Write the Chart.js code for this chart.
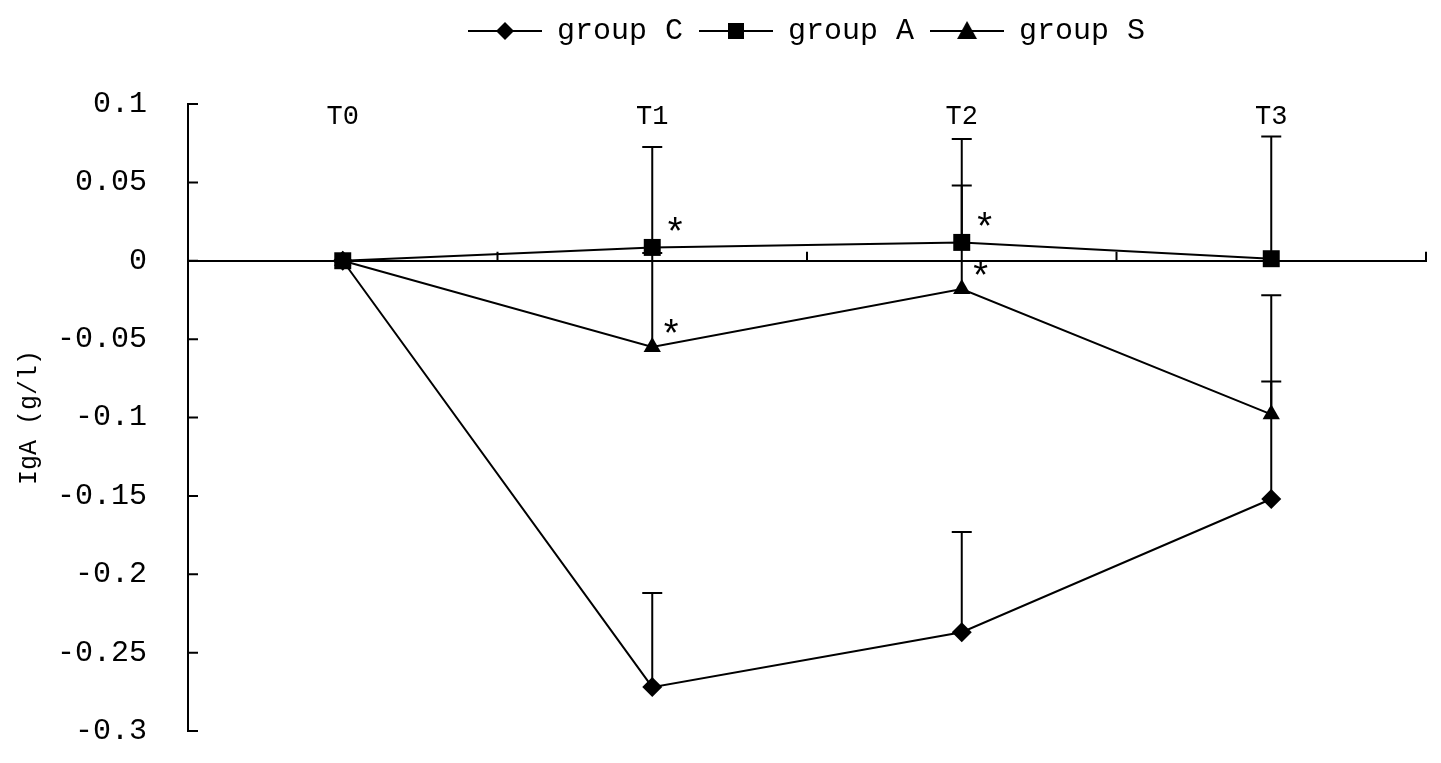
<!DOCTYPE html>
<html>
<head>
<meta charset="utf-8">
<script src="https://cdn.jsdelivr.net/npm/chart.js@4.4.0/dist/chart.umd.min.js"></script>
<style>
html, body { margin: 0; padding: 0; background: #fff; }
#wrap { width: 1441px; height: 763px; }
</style>
</head>
<body>
<div id="wrap"><canvas id="iga_chart"></canvas></div>
<script>
//----------------------------------------
//--- Input data
//----------------------------------------

var timepoints = ['T0', 'T1', 'T2', 'T3'];

var groupC = [0, -0.272, -0.237, -0.152];
var groupA = [0, 0.0085, 0.0117, 0.0013];
var groupS = [0, -0.055, -0.018, -0.098];

// upper error bars only (SD)
var errC = [0, 0.060, 0.064, 0.075];
var errA = [0, 0.064, 0.066, 0.078];
var errS = [0, 0.060, 0.066, 0.076];

// significance marks (*)
var starA = [false, true, true, false];
var starS = [false, true, true, false];

var yMin = -0.3, yMax = 0.1, yStep = 0.05;

var monoFont = '"Liberation Mono", "DejaVu Sans Mono", monospace';

//----------------------------------------
//--- Legend icons: line with marker in the middle
//----------------------------------------

function legendIcon(shape, r) {
    var c = document.createElement('canvas');
    c.width = 74; c.height = 24;
    var g = c.getContext('2d');
    g.fillStyle = '#000'; g.strokeStyle = '#000'; g.lineWidth = 2;
    g.beginPath(); g.moveTo(0, 12); g.lineTo(74, 12); g.stroke();
    g.beginPath();
    if (shape === 'diamond') {
        g.moveTo(37, 12 - r); g.lineTo(37 + r, 12); g.lineTo(37, 12 + r); g.lineTo(37 - r, 12);
    } else if (shape === 'square') {
        g.rect(37 - r, 12 - r, 2 * r, 2 * r);
    } else {
        g.moveTo(37, 12 - r); g.lineTo(37 + r, 12 + r * 0.8); g.lineTo(37 - r, 12 + r * 0.8);
    }
    g.closePath(); g.fill();
    return c;
}

//----------------------------------------
//--- Plugins: error bars, axis decorations, stars
//----------------------------------------

var errorBars = {
    id: 'errorBars',
    beforeDatasetsDraw: function(chart) {
        var ctx = chart.ctx, y = chart.scales.y;
        chart.data.datasets.forEach(function(ds, i) {
            var meta = chart.getDatasetMeta(i);
            meta.data.forEach(function(pt, j) {
                var e = ds.errorBars[j];
                if (!e) return;
                var top = y.getPixelForValue(ds.data[j] + e);
                ctx.save();
                ctx.strokeStyle = '#000'; ctx.lineWidth = 2;
                ctx.beginPath();
                ctx.moveTo(pt.x, pt.y); ctx.lineTo(pt.x, top);
                ctx.moveTo(pt.x - 10, top); ctx.lineTo(pt.x + 10, top);
                ctx.stroke();
                ctx.restore();
            });
        });
    }
};

var decorations = {
    id: 'decorations',
    beforeInit: function(chart) {
        // extra space under the legend
        var fit = chart.legend.fit;
        chart.legend.fit = function() { fit.call(this); this.height += 48; };
    },
    afterLayout: function(chart) {
        // legend is centred a bit right of the canvas centre
        chart.legend.left += 91; chart.legend.right += 91;
    },
    afterDraw: function(chart) {
        var ctx = chart.ctx, x = chart.scales.x, y = chart.scales.y, area = chart.chartArea;
        var y0 = y.getPixelForValue(0);
        ctx.save();
        ctx.strokeStyle = '#000'; ctx.lineWidth = 2;
        ctx.beginPath();
        // y ticks pointing inward
        y.ticks.forEach(function(t) {
            var py = y.getPixelForValue(t.value);
            ctx.moveTo(area.left, py); ctx.lineTo(area.left + 10, py);
        });
        // x ticks at category boundaries, pointing up
        for (var i = 0; i < timepoints.length; i++) {
            var bx = i < timepoints.length - 1 ? (x.getPixelForValue(i) + x.getPixelForValue(i + 1)) / 2 : area.right;
            ctx.moveTo(bx, y0); ctx.lineTo(bx, y0 - 9);
        }
        ctx.stroke();

        // time point labels along the top
        ctx.fillStyle = '#000';
        ctx.font = '27px ' + monoFont;
        ctx.textAlign = 'center'; ctx.textBaseline = 'middle';
        timepoints.forEach(function(lbl, i) {
            ctx.fillText(lbl, x.getPixelForValue(i), area.top + 13);
        });

        // stars
        ctx.font = '38px ' + monoFont;
        var marks = [[1, starA, 23, -29], [2, starS, 19, -27]];
        marks.forEach(function(m) {
            var meta = chart.getDatasetMeta(m[0]);
            m[1].forEach(function(on, j) {
                if (!on) return;
                var pt = meta.data[j];
                ctx.fillText('*', pt.x + m[2], pt.y + m[3] + 17);
            });
        });
        ctx.restore();
    }
};

//----------------------------------------
//--- Line chart
//----------------------------------------

var iga_chart = new Chart(document.getElementById('iga_chart').getContext('2d'), {
    type: 'line',
    data: {
        labels: timepoints,
        datasets: [{
            label: 'group C', data: groupC, errorBars: errC,
            pointStyle: 'rectRot', pointRadius: 10, icon: legendIcon('diamond', 9)
        }, {
            label: 'group A', data: groupA, errorBars: errA,
            pointStyle: 'rect', pointRadius: 12, icon: legendIcon('square', 8)
        }, {
            label: 'group S', data: groupS, errorBars: errS,
            pointStyle: 'triangle', pointRadius: 10, icon: legendIcon('triangle', 10)
        }].map(function(ds) {
            ds.borderColor = '#000'; ds.backgroundColor = '#000';
            ds.pointBackgroundColor = '#000'; ds.pointBorderColor = '#000';
            ds.borderWidth = 2; ds.pointBorderWidth = 0; ds.tension = 0; ds.clip = false;
            return ds;
        })
    },
    options: {
        responsive: true, maintainAspectRatio: false, animation: false,
        layout: {padding: {left: 5, right: 15, top: 0, bottom: 32}},
        plugins: {
            tooltip: {enabled: false},
            legend: {
                position: 'top',
                labels: {
                    usePointStyle: true, pointStyleWidth: 74, padding: 16,
                    color: '#000', font: {family: monoFont, size: 30},
                    generateLabels: function(chart) {
                        return chart.data.datasets.map(function(ds, i) {
                            return {text: ds.label, pointStyle: ds.icon, fillStyle: '#000',
                                    strokeStyle: '#000', lineWidth: 0, hidden: false, datasetIndex: i};
                        });
                    }
                }
            }
        },
        scales: {
            x: {
                position: {y: 0}, offset: true,
                grid: {display: false},
                border: {display: true, color: '#000', width: 2},
                ticks: {display: false}
            },
            y: {
                min: yMin, max: yMax,
                grid: {display: false},
                border: {display: true, color: '#000', width: 2},
                afterFit: function(scale) { scale.width = 183; scale.paddingBottom = 0; },
                ticks: {
                    stepSize: yStep, padding: 33, color: '#000',
                    font: {family: monoFont, size: 30},
                    callback: function(v) { return String(Math.round(v * 100) / 100); }
                },
                title: {
                    display: true, text: 'IgA (g/l)', color: '#000',
                    font: {family: monoFont, size: 25}, padding: {top: 9, bottom: 21}
                }
            }
        }
    },
    plugins: [errorBars, decorations]
});
</script>
</body>
</html>
